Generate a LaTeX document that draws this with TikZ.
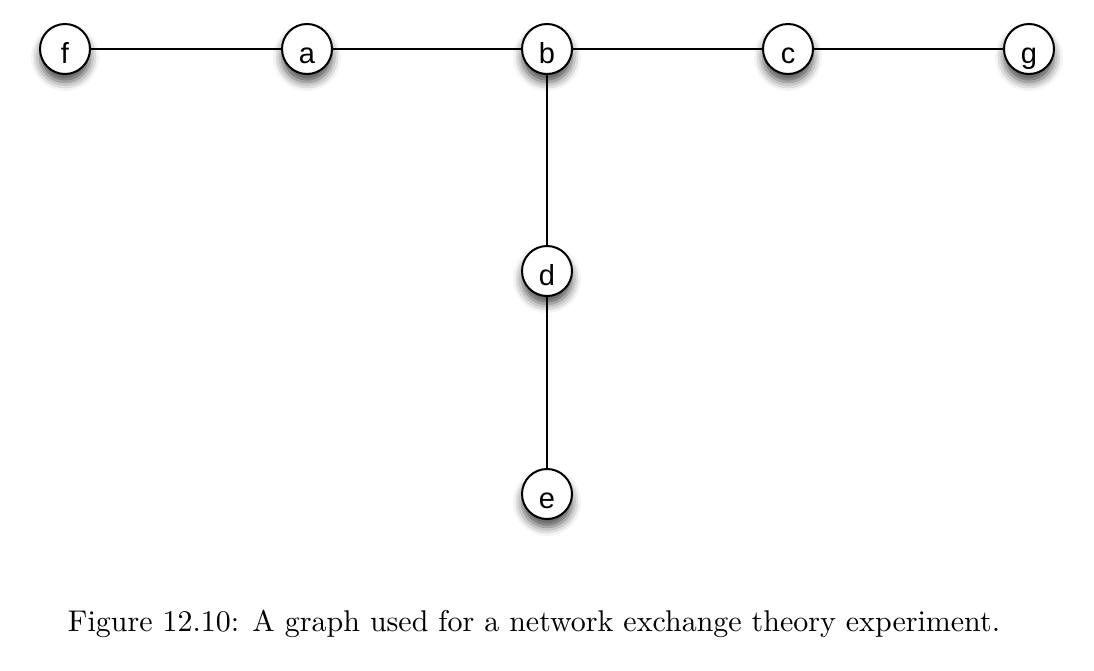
\documentclass[tikz,border=0pt]{standalone}
\usepackage{fontspec}
\newfontfamily\nodefont{Liberation Sans}
\usetikzlibrary{shadows.blur}
\begin{document}
\begin{tikzpicture}[x=1pt,y=1pt,
  vertex/.style={circle, draw=black, line width=2pt, fill=white, minimum size=50pt, inner sep=0pt,
    text height=28pt, text depth=0pt,
    font=\nodefont\fontsize{29}{32}\selectfont,
    blur shadow={shadow xshift=0pt, shadow yshift=-8pt, shadow blur radius=9pt, shadow opacity=70}},
  edge/.style={line width=2pt, draw=black}]
\useasboundingbox (0,0) rectangle (1094,-670);
\node[vertex] (f) at (65,-49) {f};
\node[vertex] (a) at (307,-49) {a};
\node[vertex] (b) at (547,-49) {b};
\node[vertex] (c) at (788,-49) {c};
\node[vertex] (g) at (1029,-49) {g};
\node[vertex] (d) at (547,-271) {d};
\node[vertex] (e) at (547,-494) {e};
\draw[edge] (f) -- (a);
\draw[edge] (a) -- (b);
\draw[edge] (b) -- (c);
\draw[edge] (c) -- (g);
\draw[edge] (b) -- (d);
\draw[edge] (d) -- (e);
\node (cap) at (534,-624) {\resizebox{932pt}{!}{Figure 12.10: A graph used for a network exchange theory experiment.}};
\end{tikzpicture}
\end{document}
